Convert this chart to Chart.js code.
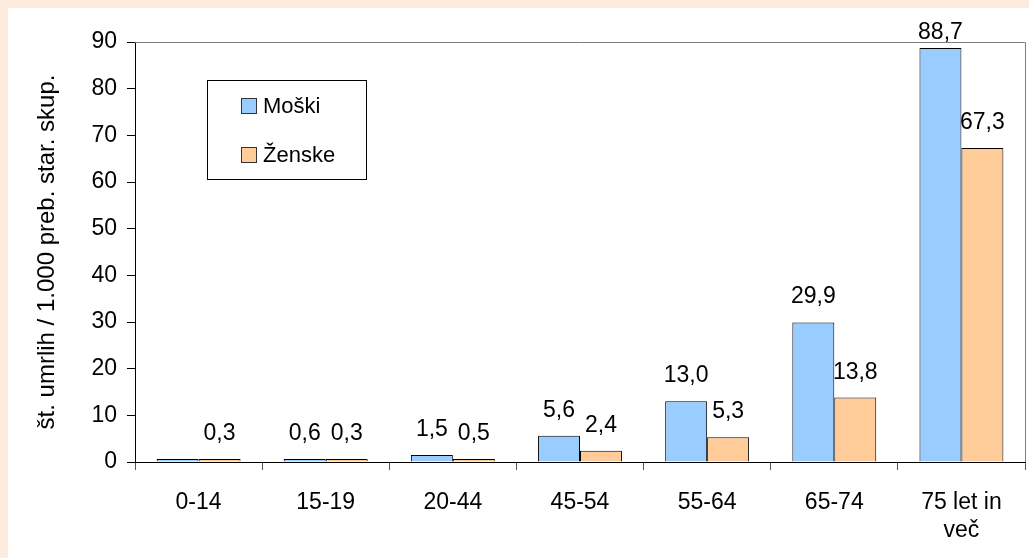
<!DOCTYPE html>
<html>
<head>
<meta charset="utf-8">
<script src="https://cdn.jsdelivr.net/npm/chart.js@4/dist/chart.umd.min.js"></script>
<style>
    html, body { margin: 0; padding: 0; background: #FDEBDD; }
    #wrap { position: absolute; left: 8px; top: 8px; width: 1021px; height: 550px; background: #fff; }
</style>
</head>
<body>
<div id="wrap"><canvas id="chart" width="1021" height="550"></canvas></div>
<script>
// podatki
const categories = ['0-14', '15-19', '20-44', '45-54', '55-64', '65-74', ['75 let in', 'več']];
const moski = [0.4, 0.6, 1.5, 5.6, 13.0, 29.9, 88.7];
const zenske = [0.3, 0.3, 0.5, 2.4, 5.3, 13.8, 67.3];
const yTicks = [0, 10, 20, 30, 40, 50, 60, 70, 80, 90];
// oznaka za moške 0-14 ni prikazana
const hiddenLabels = [[0], []];

const FONT = 'Liberation Sans, Arial, sans-serif';

// vrednosti nad stolpci
const valueLabels = {
    id: 'valueLabels',
    afterDatasetsDraw(chart) {
        const ctx = chart.ctx;
        ctx.save();
        ctx.font = '23px ' + FONT;
        ctx.fillStyle = '#000';
        ctx.textAlign = 'center';
        ctx.textBaseline = 'alphabetic';
        chart.data.datasets.forEach(function(ds, di) {
            chart.getDatasetMeta(di).data.forEach(function(bar, i) {
                if (hiddenLabels[di].indexOf(i) >= 0) return;
                const txt = ds.data[i].toFixed(1).replace('.', ',');
                const y = Math.max(bar.y - 19, chart.chartArea.top - 3);
                ctx.fillText(txt, bar.x, y);
            });
        });
        ctx.restore();
    }
};

// okvir risalne površine (zgoraj in desno) in legenda
const frameAndLegend = {
    id: 'frameAndLegend',
    afterDraw(chart) {
        const ctx = chart.ctx;
        const a = chart.chartArea;
        ctx.save();
        ctx.strokeStyle = '#808080';
        ctx.lineWidth = 1;
        ctx.beginPath();
        ctx.moveTo(a.left, a.top + 0.5);
        ctx.lineTo(a.right + 0.5, a.top + 0.5);
        ctx.lineTo(a.right + 0.5, a.bottom);
        ctx.stroke();

        // legenda
        ctx.fillStyle = '#fff';
        ctx.fillRect(199, 72, 159, 99);
        ctx.strokeStyle = '#000';
        ctx.strokeRect(199.5, 72.5, 159, 99);
        const items = chart.data.datasets;
        const ys = [90, 139];
        ctx.font = '22px ' + FONT;
        ctx.textBaseline = 'alphabetic';
        items.forEach(function(ds, i) {
            ctx.fillStyle = ds.backgroundColor;
            ctx.fillRect(233, ys[i], 16, 16);
            ctx.strokeStyle = '#333';
            ctx.strokeRect(233.5, ys[i] + 0.5, 15, 15);
            ctx.fillStyle = '#000';
            ctx.fillText(ds.label, 255, ys[i] + 15);
        });
        ctx.restore();
    }
};

new Chart(document.getElementById('chart'), {
    type: 'bar',
    data: {
        labels: categories,
        datasets: [
            {
                label: 'Moški',
                data: moski,
                backgroundColor: '#99CCFF',
                borderColor: '#000',
                borderWidth: 1,
                minBarLength: 3,
                categoryPercentage: 0.66,
                barPercentage: 1.0
            },
            {
                label: 'Ženske',
                data: zenske,
                backgroundColor: '#FFCC99',
                borderColor: '#000',
                borderWidth: 1,
                minBarLength: 3,
                categoryPercentage: 0.66,
                barPercentage: 1.0
            }
        ]
    },
    options: {
        responsive: false,
        animation: false,
        layout: { padding: { top: 34, right: 4, left: 0, bottom: 0 } },
        plugins: {
            legend: { display: false },
            tooltip: { enabled: false }
        },
        scales: {
            x: {
                grid: {
                    drawOnChartArea: false,
                    drawTicks: true,
                    tickLength: 8,
                    color: '#555',
                    offset: true
                },
                border: { color: '#000', width: 1 },
                ticks: {
                    color: '#000',
                    font: { family: FONT, size: 23 },
                    padding: 19,
                    maxRotation: 0,
                    autoSkip: false
                },
                afterFit: function(scale) { scale.height = 96; }
            },
            y: {
                min: 0,
                max: 90,
                afterBuildTicks: function(scale) {
                    scale.ticks = yTicks.map(function(v) { return { value: v }; });
                },
                grid: {
                    drawOnChartArea: false,
                    drawTicks: true,
                    tickLength: 8,
                    color: '#000'
                },
                border: { color: '#000', width: 1 },
                ticks: {
                    color: '#000',
                    font: { family: FONT, size: 23 },
                    padding: 10
                },
                title: {
                    display: true,
                    text: 'št. umrlih / 1.000 preb. star. skup.',
                    color: '#000',
                    font: { family: FONT, size: 24 },
                    padding: { top: 25, bottom: 0 }
                },
                afterFit: function(scale) { scale.width = 127; }
            }
        }
    },
    plugins: [valueLabels, frameAndLegend]
});
</script>
</body>
</html>
